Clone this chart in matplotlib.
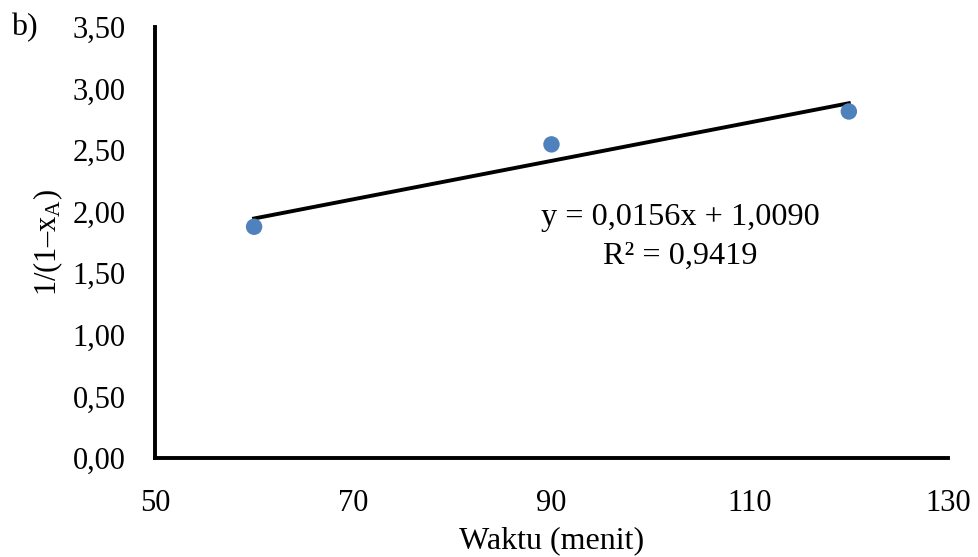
import numpy as np
import matplotlib.pyplot as plt

plt.rcParams['font.family'] = ['Liberation Serif', 'DejaVu Serif']
plt.rcParams['mathtext.fontset'] = 'custom'
plt.rcParams['mathtext.rm'] = 'Liberation Serif'
plt.rcParams['mathtext.it'] = 'Liberation Serif:italic'

# data
waktu = [60, 90, 120]
inv_conv = [1.878, 2.547, 2.814]
slope = 0.0156
intercept = 1.0090
r2 = 0.9419
x_ticks = [50, 70, 90, 110, 130]
y_ticks = [0.0, 0.5, 1.0, 1.5, 2.0, 2.5, 3.0, 3.5]

fig = plt.figure(figsize=(9.79, 5.57), dpi=100)
ax = fig.add_axes([0.1583, 0.1777, 0.8100, 0.7738])

ax.scatter(waktu, inv_conv, s=140, color='#4F81BD', zorder=3, edgecolors='none')

# garis tren linear
xl = np.array([min(waktu), max(waktu)])
ax.plot(xl, slope * xl + intercept, color='black', lw=2.8, zorder=2)

ax.set_xlim(50, 130)
ax.set_ylim(0, 3.5)
ax.set_xticks(x_ticks)
ax.set_yticks(y_ticks)
ax.set_yticklabels([f"{v:.2f}".replace('.', ',') for v in y_ticks])
ax.tick_params(length=0, labelsize=22)
ax.tick_params(axis='y', pad=21)
ax.tick_params(axis='x', pad=22)

for s in ['top', 'right']:
    ax.spines[s].set_visible(False)
for s in ['left', 'bottom']:
    ax.spines[s].set_linewidth(2.8)

ax.set_xlabel("Waktu (menit)", fontsize=23, labelpad=6)
ax.set_ylabel("1/(1–x$_\\mathregular{A}$)", fontsize=22)
ax.yaxis.set_label_coords(-0.114, 0.5)

eq = f"y = {slope:.4f}x + {intercept:.4f}".replace('.', ',')
ax.text(103, 1.95, eq, fontsize=23.2, ha='center', va='center')
ax.text(103, 1.64, f"R² = {r2:.4f}".replace('.', ','), fontsize=23.2, ha='center', va='center')

fig.text(0.011, 0.951, "b)", fontsize=23, ha='left', va='center')

fig.savefig("out.png", dpi=100)
